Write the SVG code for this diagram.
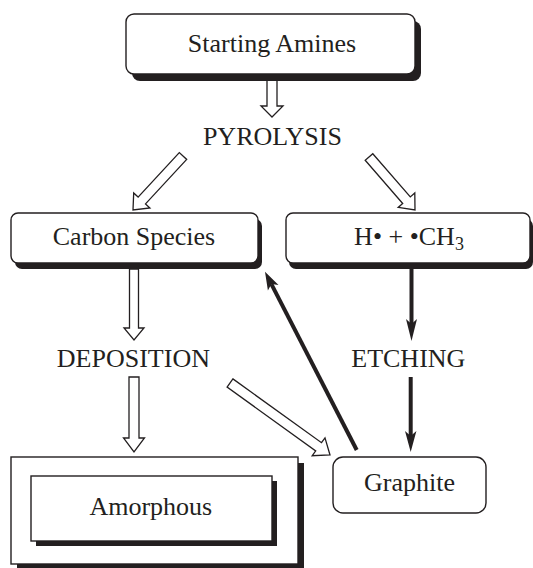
<svg xmlns="http://www.w3.org/2000/svg" width="533" height="568" viewBox="0 0 533 568">
<style>
.t{font-family:"Liberation Serif","Times New Roman",serif;font-size:26px;fill:#231f20;text-anchor:middle}
.box{fill:#fff;stroke:#231f20;stroke-width:1.4}
.sh{fill:#231f20}
.hol{fill:#fff;stroke:#231f20;stroke-width:1.3;stroke-linejoin:miter}
.sol{stroke:#231f20;stroke-width:4;fill:none}
.head{fill:#231f20}
</style>
<rect width="533" height="568" fill="#fff"/>
<g id="connectors">
<polygon class="hol" points="267,80 277,80 277,106 283,106 272,117 261,106 267,106"/>
<polygon class="hol" points="186.7,159.4 145.5,203.9 149.9,208 133,210 133.7,193 138.1,197.1 179.3,152.6"/>
<polygon class="hol" points="372.8,153.7 410.3,196.9 414.8,193 415,210 398.2,207.4 402.7,203.5 365.2,160.3"/>
<polygon class="hol" points="129.5,269 138.5,269 138.5,328 144,328 134,340 124,328 129.5,328"/>
<polygon class="hol" points="129,377 139,377 139,438 144.5,438 134,452 123.5,438 129,438"/>
<polygon class="hol" points="232.9,378.9 321.5,442.7 325,437.9 330,455 312.2,455.7 315.7,450.9 227.1,387.1"/>
<line class="sol" x1="411.5" y1="268" x2="411.5" y2="325"/>
<path class="head" d="M406,319 L411.5,341 L417,319 L411.5,324 Z"/>
<line class="sol" x1="410.7" y1="377" x2="410.7" y2="436"/>
<path class="head" d="M405,431 L410.7,452 L416.4,431 L410.7,436 Z"/>
<line class="sol" x1="356.7" y1="450" x2="271.4" y2="284.1"/>
<path class="head" d="M265,271.7 L278.5,285 L271.4,284.1 L267.9,290.4 Z"/>
</g>
<g id="starting-amines">
<rect class="sh" x="132" y="21" width="289" height="60" rx="8"/>
<rect class="box" x="126" y="14" width="289" height="60" rx="8"/>
<text class="t" x="272" y="52">Starting Amines</text>
</g>
<g id="pyrolysis">
<text class="t" x="272.4" y="145">PYROLYSIS</text>
</g>
<g id="carbon-species">
<rect class="sh" x="15" y="219" width="247" height="50" rx="7"/>
<rect class="box" x="11" y="213" width="247" height="50" rx="7"/>
<text class="t" x="134" y="245">Carbon Species</text>
</g>
<g id="radicals">
<rect class="sh" x="289" y="219" width="244" height="50" rx="7"/>
<rect class="box" x="286" y="213" width="244" height="50" rx="7"/>
<text class="t" x="409" y="245">H• + •CH<tspan font-size="18" dy="5">3</tspan></text>
</g>
<g id="deposition">
<text class="t" x="133.4" y="367">DEPOSITION</text>
</g>
<g id="etching">
<text class="t" x="408.3" y="367">ETCHING</text>
</g>
<g id="amorphous">
<rect class="sh" x="17" y="463" width="287" height="107"/>
<rect class="box" x="11" y="457" width="287" height="107"/>
<rect class="sh" x="36" y="481" width="241" height="65"/>
<rect class="box" x="31" y="476" width="241" height="65"/>
<text class="t" x="150.8" y="515">Amorphous</text>
</g>
<g id="graphite">
<rect class="box" x="333" y="457" width="153" height="56" rx="10"/>
<text class="t" x="409.5" y="491">Graphite</text>
</g>
</svg>
